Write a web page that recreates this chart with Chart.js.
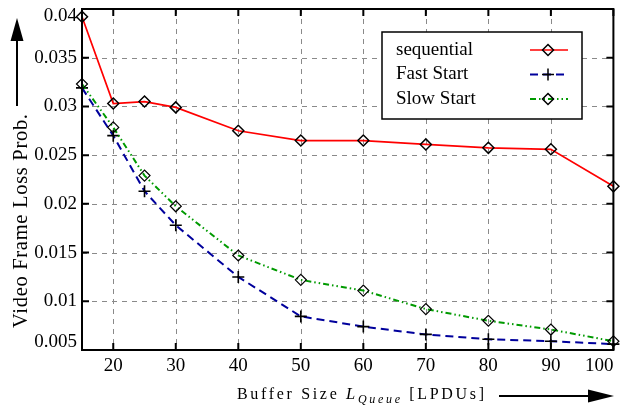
<!DOCTYPE html>
<html>
<head>
<meta charset="utf-8">
<script src="https://cdn.jsdelivr.net/npm/chart.js@4.4.0/dist/chart.umd.min.js"></script>
<style>
  html, body { margin: 0; padding: 0; background: #fff; }
  #wrap { width: 621px; height: 405px; position: relative; }
</style>
</head>
<body>
<div id="wrap"><canvas id="c" width="621" height="405"></canvas></div>
<script>
// ---- data ----
const bufferSizes = [15, 20, 25, 30, 40, 50, 60, 70, 80, 90, 100];
const sequential  = [0.0392, 0.0303, 0.0305, 0.0299, 0.0275, 0.0265, 0.0265, 0.0261, 0.02575, 0.0256, 0.0218];
const fastStart   = [0.0319, 0.0270, 0.0213, 0.0178, 0.0125, 0.00845, 0.0074, 0.0066, 0.0061, 0.0059, 0.0056];
const slowStart   = [0.0323, 0.02785, 0.0229, 0.01975, 0.0147, 0.0122, 0.0111, 0.0092, 0.0080, 0.0071, 0.0059];
const xTicks = [20, 30, 40, 50, 60, 70, 80, 90, 100];
const yTicks = [0.005, 0.01, 0.015, 0.02, 0.025, 0.03, 0.035, 0.04];
const yTickLabels = ['0.005', '0.01', '0.015', '0.02', '0.025', '0.03', '0.035', '0.04'];
const seriesNames = ['sequential', 'Fast Start', 'Slow Start'];

const SERIF = '"Liberation Serif", "DejaVu Serif", serif';
const RED = '#ff0000', BLUE = '#00009c', GREEN = '#009a00';
const BLUE_DASH = [8, 5];
const GREEN_DASH = [6, 3, 1.5, 3, 1.5, 3];

function pts(vals) { return bufferSizes.map((x, i) => ({ x: x, y: vals[i] })); }

const decor = {
  id: 'decor',
  beforeDatasetsDraw(chart) {
    const { ctx, chartArea: a, scales: { x, y } } = chart;
    ctx.save();
    ctx.strokeStyle = '#8a8a8a';
    ctx.lineWidth = 1;
    ctx.setLineDash([5, 5]);
    xTicks.forEach(v => {
      const px = Math.round(x.getPixelForValue(v)) + 0.5;
      ctx.beginPath(); ctx.moveTo(px, a.top); ctx.lineTo(px, a.bottom); ctx.stroke();
    });
    yTicks.forEach(v => {
      const py = Math.round(y.getPixelForValue(v)) + 0.5;
      if (py <= a.top + 1 || py >= a.bottom - 1) return;
      ctx.beginPath(); ctx.moveTo(a.left, py); ctx.lineTo(a.right, py); ctx.stroke();
    });
    ctx.restore();
  },
  afterDatasetsDraw(chart) {
    const { ctx, chartArea: a, scales: { x, y } } = chart;
    ctx.save();
    // frame
    ctx.setLineDash([]);
    ctx.strokeStyle = '#000';
    ctx.lineWidth = 2;
    ctx.strokeRect(a.left, a.top, a.right - a.left, a.bottom - a.top);
    // inward ticks
    xTicks.forEach(v => {
      const px = x.getPixelForValue(v);
      ctx.beginPath();
      ctx.moveTo(px, a.bottom); ctx.lineTo(px, a.bottom - 7);
      ctx.moveTo(px, a.top); ctx.lineTo(px, a.top + 7);
      ctx.stroke();
    });
    yTicks.forEach(v => {
      const py = y.getPixelForValue(v);
      ctx.beginPath();
      ctx.moveTo(a.left, py); ctx.lineTo(a.left + 7, py);
      ctx.moveTo(a.right, py); ctx.lineTo(a.right - 7, py);
      ctx.stroke();
    });
    // tick labels
    ctx.fillStyle = '#000';
    ctx.font = '19px ' + SERIF;
    ctx.textBaseline = 'middle';
    ctx.textAlign = 'right';
    yTicks.forEach((v, i) => {
      let py = y.getPixelForValue(v);
      py = Math.max(a.top + 7.5, Math.min(a.bottom - 8, py));
      ctx.fillText(yTickLabels[i], a.left - 5, py);
    });
    ctx.textAlign = 'center';
    xTicks.forEach(v => {
      let px = x.getPixelForValue(v);
      const lbl = String(v);
      const w = ctx.measureText(lbl).width;
      if (px + w / 2 > a.right) px = a.right - w / 2;
      ctx.fillText(lbl, px, a.bottom + 16);
    });

    // y title (rotated, letter-spaced)
    ctx.save();
    ctx.translate(27, 221);
    ctx.rotate(-Math.PI / 2);
    ctx.font = '20.5px ' + SERIF;
    const yt = 'Video Frame Loss Prob.';
    ctx.letterSpacing = '0px';
    const yw0 = ctx.measureText(yt).width;
    const yls = Math.max(0, (214 - yw0) / (yt.length - 1));
    ctx.letterSpacing = yls + 'px';
    ctx.textAlign = 'left';
    ctx.textBaseline = 'alphabetic';
    ctx.fillText(yt, -107, 0);
    ctx.restore();
    ctx.letterSpacing = '0px';

    // y arrow
    ctx.strokeStyle = '#000';
    ctx.fillStyle = '#000';
    ctx.lineWidth = 2;
    ctx.beginPath(); ctx.moveTo(17, 106); ctx.lineTo(17, 38); ctx.stroke();
    ctx.beginPath(); ctx.moveTo(17, 18); ctx.lineTo(10.5, 41); ctx.lineTo(23.5, 41); ctx.closePath(); ctx.fill();

    // x title, pieces
    const pieces = [
      { t: 'Buffer Size ', f: '16px ' + SERIF, dy: 0 },
      { t: 'L', f: 'italic 16.5px ' + SERIF, dy: 0 },
      { t: 'Queue', f: 'italic 12px ' + SERIF, dy: 4 },
      { t: ' [LPDUs]', f: '16px ' + SERIF, dy: 0 }
    ];
    let total = 0, nch = 0;
    pieces.forEach(p => { ctx.font = p.f; p.w = ctx.measureText(p.t).width; total += p.w; nch += p.t.length; });
    const ls = (247 - total) / (nch - 1);
    let cx = 237;
    ctx.textAlign = 'left';
    ctx.textBaseline = 'alphabetic';
    ctx.letterSpacing = ls + 'px';
    pieces.forEach(p => {
      ctx.font = p.f;
      ctx.fillText(p.t, cx, 399 + p.dy);
      cx += ctx.measureText(p.t).width;
    });
    ctx.letterSpacing = '0px';
    // x arrow
    ctx.beginPath(); ctx.moveTo(499, 396); ctx.lineTo(592, 396); ctx.stroke();
    ctx.beginPath(); ctx.moveTo(614, 396); ctx.lineTo(588, 389.5); ctx.lineTo(588, 402.5); ctx.closePath(); ctx.fill();

    // legend
    const lx = 382, ly = 32, lw = 200, lh = 87;
    ctx.fillStyle = '#fff';
    ctx.fillRect(lx, ly, lw, lh);
    ctx.lineWidth = 1.5;
    ctx.strokeStyle = '#000';
    ctx.strokeRect(lx, ly, lw, lh);
    const rows = [50, 74.5, 99];
    const styles = [
      { c: RED, dash: [], w: 1.6, m: 'diamond' },
      { c: BLUE, dash: BLUE_DASH, w: 2, m: 'cross' },
      { c: GREEN, dash: GREEN_DASH, w: 2, m: 'diamond' }
    ];
    ctx.font = '19px ' + SERIF;
    ctx.textBaseline = 'middle';
    ctx.textAlign = 'left';
    rows.forEach((ry, i) => {
      ctx.fillStyle = '#000';
      ctx.fillText(seriesNames[i], 396, ry);
      const s = styles[i];
      ctx.save();
      ctx.strokeStyle = s.c; ctx.lineWidth = s.w; ctx.setLineDash(s.dash);
      ctx.beginPath(); ctx.moveTo(530, ry); ctx.lineTo(568, ry); ctx.stroke();
      ctx.restore();
      ctx.save();
      ctx.strokeStyle = '#000'; ctx.lineWidth = 1.5; ctx.setLineDash([]);
      ctx.beginPath();
      if (s.m === 'diamond') {
        ctx.moveTo(548, ry - 5.5); ctx.lineTo(553.5, ry); ctx.lineTo(548, ry + 5.5); ctx.lineTo(542.5, ry); ctx.closePath();
      } else {
        ctx.moveTo(542, ry); ctx.lineTo(554, ry); ctx.moveTo(548, ry - 6); ctx.lineTo(548, ry + 6);
      }
      ctx.stroke();
      ctx.restore();
    });
    ctx.restore();
  }
};

new Chart(document.getElementById('c'), {
  type: 'line',
  data: {
    datasets: [
      { label: seriesNames[0], data: pts(sequential), borderColor: RED, borderWidth: 1.7,
        pointStyle: 'rectRot', pointRadius: 5.5, pointBorderColor: '#000', pointBackgroundColor: 'rgba(0,0,0,0)',
        pointBorderWidth: 1.5, tension: 0, clip: false, order: 1 },
      { label: seriesNames[1], data: pts(fastStart), borderColor: BLUE, borderWidth: 2, borderDash: BLUE_DASH,
        pointStyle: 'cross', pointRadius: 6, pointBorderColor: '#000', pointBorderWidth: 1.6,
        tension: 0, clip: false, order: 3 },
      { label: seriesNames[2], data: pts(slowStart), borderColor: GREEN, borderWidth: 2, borderDash: GREEN_DASH,
        pointStyle: 'rectRot', pointRadius: 5.5, pointBorderColor: '#000', pointBackgroundColor: 'rgba(0,0,0,0)',
        pointBorderWidth: 1.2, tension: 0, clip: false, order: 2 }
    ]
  },
  options: {
    responsive: false,
    animation: false,
    devicePixelRatio: 1,
    layout: { padding: { left: 0, right: 5, top: 9, bottom: 0 } },
    plugins: { legend: { display: false }, tooltip: { enabled: false } },
    scales: {
      x: {
        type: 'linear', min: 15, max: 100,
        grid: { display: false }, border: { display: false },
        ticks: { display: false },
        afterFit(s) { s.height = 55; }
      },
      y: {
        type: 'linear', min: 0.005, max: 0.04,
        grid: { display: false }, border: { display: false },
        ticks: { display: false },
        afterFit(s) { s.width = 82; }
      }
    }
  },
  plugins: [decor]
});
</script>
</body>
</html>
